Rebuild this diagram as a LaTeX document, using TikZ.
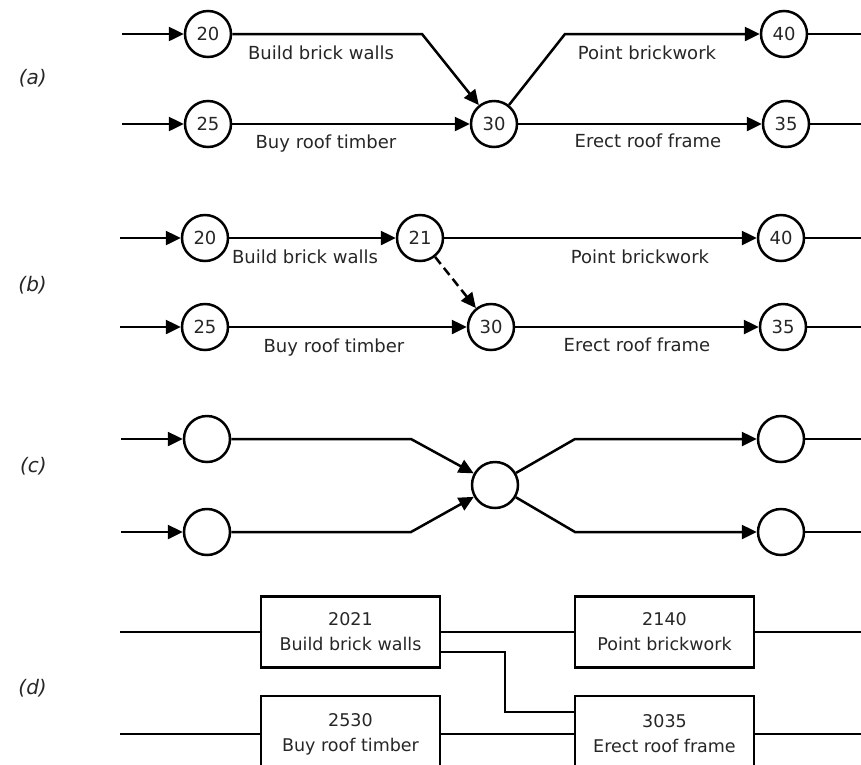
\documentclass[tikz,border=0pt]{standalone}
\usepackage{fontspec}
\setmainfont{DejaVu Sans}
\usetikzlibrary{arrows.meta}
\definecolor{txt}{HTML}{262626}
\begin{document}
\begin{tikzpicture}[x=1pt,y=-1pt,
 ev/.style={circle,draw,line width=2.5pt,minimum size=46pt,inner sep=0pt,font=\fontsize{18}{20}\selectfont,text=txt},
 con/.style={line width=2.5pt},
 arr/.style={con,-{Triangle[length=15pt,width=14pt]}},
 lbl/.style={anchor=base,font=\fontsize{18}{20}\selectfont,text=txt,inner sep=0pt},
 part/.style={anchor=east,font=\fontsize{20}{22}\selectfont\itshape,text=txt,inner sep=0pt},
 act/.style={draw,line width=2.5pt,minimum width=179pt,minimum height=71pt,align=center,font=\fontsize{17.5}{25}\selectfont,text=txt}]
\useasboundingbox (0,0) rectangle (861,764);
\clip (0,0) rectangle (861,764);

% ---------- (a)
\node[part] (pa) at (47,78) {(a)};
\node[ev] (a20) at (208,34) {20};
\node[ev] (a25) at (208,124) {25};
\node[ev] (a30) at (494,124) {30};
\node[ev] (a40) at (784,34) {40};
\node[ev] (a35) at (786,124) {35};
\coordinate (ai1) at (122,34);
\coordinate (ai2) at (122,124);
\coordinate (ak1) at (422,34);
\coordinate (ak2) at (565,34);
\coordinate (ao1) at (861,34);
\coordinate (ao2) at (861,124);
\draw[arr] (ai1) -- (a20);
\draw[arr] (ai2) -- (a25);
\draw[arr] (a20) -- (ak1) -- (a30);
\draw[arr] (a25) -- (a30);
\draw[arr] (a30) -- (ak2) -- (a40);
\draw[arr] (a30) -- (a35);
\draw[con] (a40) -- (ao1);
\draw[con] (a35) -- (ao2);
\node[lbl] (la1) at (321,59) {Build brick walls};
\node[lbl] (la2) at (326,148) {Buy roof timber};
\node[lbl] (la3) at (647,59) {Point brickwork};
\node[lbl] (la4) at (648,147) {Erect roof frame};

% ---------- (b)
\node[part] (pb) at (47,285) {(b)};
\node[ev] (b20) at (205,238) {20};
\node[ev] (b21) at (420,238) {21};
\node[ev] (b25) at (205,327) {25};
\node[ev] (b30) at (491,327) {30};
\node[ev] (b40) at (781,238) {40};
\node[ev] (b35) at (783,327) {35};
\coordinate (bi1) at (120,238);
\coordinate (bi2) at (120,327);
\coordinate (bo1) at (861,238);
\coordinate (bo2) at (861,327);
\draw[arr] (bi1) -- (b20);
\draw[arr] (bi2) -- (b25);
\draw[arr] (b20) -- (b21);
\draw[arr] (b21) -- (b40);
\draw[arr,dash pattern=on 9pt off 5pt] (b21) -- (b30);
\draw[arr] (b25) -- (b30);
\draw[arr] (b30) -- (b35);
\draw[con] (b40) -- (bo1);
\draw[con] (b35) -- (bo2);
\node[lbl] (lb1) at (305,263) {Build brick walls};
\node[lbl] (lb2) at (334,352) {Buy roof timber};
\node[lbl] (lb3) at (640,263) {Point brickwork};
\node[lbl] (lb4) at (637,351) {Erect roof frame};

% ---------- (c)
\node[part] (pc) at (47,466) {(c)};
\node[ev] (c1) at (207,439) {};
\node[ev] (c2) at (207,532) {};
\node[ev] (c3) at (495,485) {};
\node[ev] (c4) at (781,439) {};
\node[ev] (c5) at (781,532) {};
\coordinate (ci1) at (121,439);
\coordinate (ci2) at (121,532);
\coordinate (ck1) at (411,439);
\coordinate (ck2) at (411,532);
\coordinate (ck3) at (575,439);
\coordinate (ck4) at (575,532);
\coordinate (co1) at (861,439);
\coordinate (co2) at (861,532);
\draw[arr] (ci1) -- (c1);
\draw[arr] (ci2) -- (c2);
\draw[arr] (c1) -- (ck1) -- (c3);
\draw[arr] (c2) -- (ck2) -- (c3);
\draw[arr] (c3) -- (ck3) -- (c4);
\draw[arr] (c3) -- (ck4) -- (c5);
\draw[con] (c4) -- (co1);
\draw[con] (c5) -- (co2);

% ---------- (d)
\node[part] (pd) at (47,688) {(d)};
\node[act] (d1) at (350.5,632) {2021\\Build brick walls};
\node[act] (d2) at (664.5,632) {2140\\Point brickwork};
\node[act,minimum height=76pt] (d3) at (350.5,734) {2530\\Buy roof timber};
\node[act,minimum height=76pt] (d4) at (664.5,734) {3035\\Erect roof frame};
\coordinate (di1) at (120,632);
\coordinate (di2) at (120,734);
\coordinate (do1) at (861,632);
\coordinate (do2) at (861,734);
\coordinate (dk1) at (505,652);
\coordinate (dk2) at (505,712);
\draw[con] (di1) -- (d1.west);
\draw[con] (d1.east) -- (d2.west);
\draw[con] (d2.east) -- (do1);
\draw[con] (d1.east |- dk1) -- (dk1) -- (dk2) -- (d4.west |- dk2);
\draw[con] (di2) -- (d3.west);
\draw[con] (d3.east) -- (d4.west);
\draw[con] (d4.east) -- (do2);
\end{tikzpicture}
\end{document}
